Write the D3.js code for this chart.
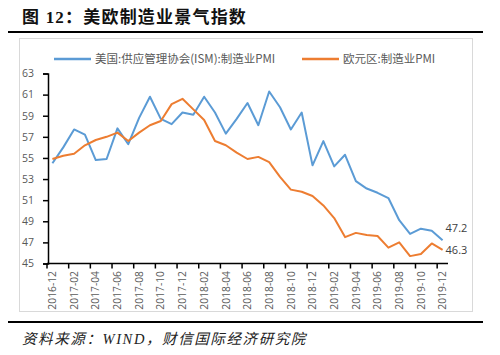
<!DOCTYPE html>
<html><head><meta charset="utf-8">
<script src="https://cdn.jsdelivr.net/npm/d3@7"></script>
<style>
body{margin:0;background:#fff;}
svg{display:block;}
</style></head>
<body><svg id="c" width="500" height="355"></svg>
<script>
const months = ["2016-12","2017-01","2017-02","2017-03","2017-04","2017-05","2017-06","2017-07","2017-08","2017-09","2017-10","2017-11","2017-12",
"2018-01","2018-02","2018-03","2018-04","2018-05","2018-06","2018-07","2018-08","2018-09","2018-10","2018-11","2018-12",
"2019-01","2019-02","2019-03","2019-04","2019-05","2019-06","2019-07","2019-08","2019-09","2019-10","2019-11","2019-12"];
const usISM = [54.5,56.0,57.7,57.2,54.8,54.9,57.8,56.3,58.8,60.8,58.7,58.2,59.3,
59.1,60.8,59.3,57.3,58.7,60.2,58.1,61.3,59.8,57.7,59.3,54.3,
56.6,54.2,55.3,52.8,52.1,51.7,51.2,49.1,47.8,48.3,48.1,47.2];
const euroPMI = [54.9,55.2,55.4,56.2,56.7,57.0,57.4,56.6,57.4,58.1,58.5,60.1,60.6,
59.6,58.6,56.6,56.2,55.5,54.9,55.1,54.6,53.2,52.0,51.8,51.4,
50.5,49.3,47.5,47.9,47.7,47.6,46.5,47.0,45.7,45.9,46.9,46.3];
const yTicks = [45,47,49,51,53,55,57,59,61,63];
const seriesNames = ["美国:供应管理协会(ISM):制造业PMI","欧元区:制造业PMI"];
const colors = ["#5b9bd5","#ed7d31"];

const svg = d3.select("#c");
const txt = "#595959";

// title
svg.append("text").attr("x",22).attr("y",23)
  .attr("font-family","'Liberation Serif','Noto Sans CJK SC'").attr("font-weight","bold")
  .attr("font-size",17).attr("letter-spacing",1.2).attr("fill","#111").text("图 12：美欧制造业景气指数");
svg.append("line").attr("x1",8).attr("x2",483).attr("y1",32).attr("y2",32).attr("stroke","#000").attr("stroke-width",2.2);
// chart frame
svg.append("rect").attr("x",19.5).attr("y",38.5).attr("width",453).attr("height",273).attr("fill","none").attr("stroke","#d9d9d9").attr("stroke-width",1);
// bottom line + source
svg.append("line").attr("x1",8).attr("x2",483).attr("y1",322).attr("y2",322).attr("stroke","#000").attr("stroke-width",2.2);
svg.append("text").attr("x",22).attr("y",344)
  .attr("font-family","'Liberation Serif','Noto Sans CJK SC'").attr("font-style","italic")
  .attr("font-size",14.5).attr("letter-spacing",1.6).attr("fill","#222").text("资料来源：WIND，财信国际经济研究院");

const x = d3.scaleBand().domain(months).range([47,448]).paddingInner(0).paddingOuter(0);
const y = d3.scaleLinear().domain([45,63]).range([263.5,73.5]);
const cx = m => x(m) + x.bandwidth()/2;

// y axis
const yAxis = svg.append("g").attr("transform","translate(48,0)")
  .call(d3.axisLeft(y).tickValues(yTicks).tickSize(5).tickFormat(d3.format("d")));
yAxis.select(".domain").attr("stroke","#000").attr("stroke-width",1.5);
yAxis.selectAll(".tick line").attr("stroke","#000").attr("stroke-width",1.5);
yAxis.selectAll(".tick text").attr("font-family","'Open Sans','Noto Sans CJK SC'").attr("font-size",10.5).attr("fill",txt).attr("x",-14);

// x axis
const xg = svg.append("g");
xg.append("line").attr("x1",47).attr("x2",448).attr("y1",263.5).attr("y2",263.5).attr("stroke","#000").attr("stroke-width",1.5);
const labelMonths = months.filter((d,i)=>i%2===0);
xg.selectAll("line.tk").data(labelMonths).join("line").attr("class","tk")
  .attr("x1",d=>x(d)).attr("x2",d=>x(d)).attr("y1",263.5).attr("y2",268.5).attr("stroke","#000").attr("stroke-width",1.5);
xg.selectAll("text").data(labelMonths).join("text")
  .attr("transform",d=>`translate(${cx(d)+3.7},${271}) rotate(-90)`)
  .attr("text-anchor","end").attr("font-family","'Open Sans','Noto Sans CJK SC'").attr("font-size",10.3).attr("fill",txt).text(d=>d);

// lines
const line = d3.line().x((d,i)=>cx(months[i])).y(d=>y(d));
[usISM, euroPMI].forEach((s,k)=>{
  svg.append("path").datum(s).attr("d",line).attr("fill","none").attr("stroke",colors[k]).attr("stroke-width",2).attr("stroke-linejoin","round");
});
// end labels
const last = months.length-1;
svg.append("text").attr("x",cx(months[last])+3).attr("y",y(usISM[last])-8).attr("font-family","'Open Sans',sans-serif").attr("font-size",11).attr("fill","#404040").text(d3.format(".1f")(usISM[last]));
svg.append("text").attr("x",cx(months[last])+3).attr("y",y(euroPMI[last])+4).attr("font-family","'Open Sans',sans-serif").attr("font-size",11).attr("fill","#404040").text(d3.format(".1f")(euroPMI[last]));

// legend
const leg = [{x:54,tx:95},{x:302,tx:343}];
leg.forEach((l,k)=>{
  svg.append("line").attr("x1",l.x).attr("x2",l.x+37).attr("y1",59).attr("y2",59).attr("stroke",colors[k]).attr("stroke-width",2.5);
  svg.append("text").attr("x",l.tx).attr("y",63).attr("font-family","'Noto Sans CJK SC'").attr("font-size",11.5).attr("fill",txt).text(seriesNames[k]);
});
</script></body></html>
